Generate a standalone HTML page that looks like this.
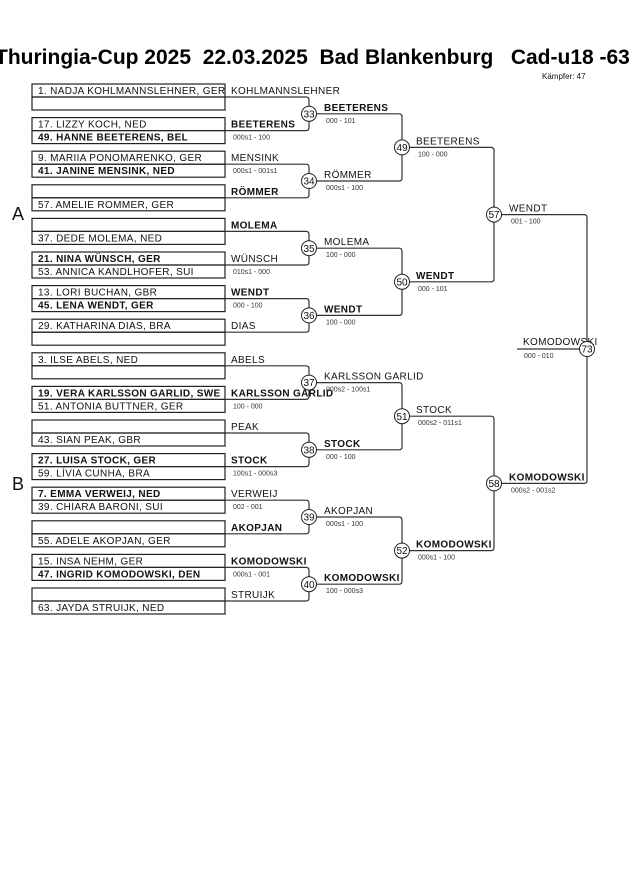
<!DOCTYPE html>
<html><head><meta charset="utf-8"><style>
html,body{margin:0;padding:0;background:#fff;overflow:hidden;}
svg{display:block;}
.t{font-family:"Liberation Sans",sans-serif;font-size:10px;letter-spacing:0.35px;fill:#111;}
.b{font-weight:bold;}
.s{font-family:"Liberation Sans",sans-serif;font-size:7px;fill:#333;}
.n{font-family:"Liberation Sans",sans-serif;font-size:10px;fill:#111;text-anchor:middle;}
rect.r{fill:none;stroke:#222;stroke-width:1.2;}
path{fill:none;stroke:#333;stroke-width:1.2;}
circle{fill:#fff;stroke:#222;stroke-width:1;}
</style></head><body>
<svg width="630" height="891" viewBox="0 0 630 891" xmlns="http://www.w3.org/2000/svg">
<text x="-5" y="64" font-family="Liberation Sans,sans-serif" font-size="21" font-weight="bold" fill="#000" xml:space="preserve">Thuringia-Cup 2025  22.03.2025  Bad Blankenburg   Cad-u18 -63</text>
<text x="542" y="79" font-family="Liberation Sans,sans-serif" font-size="8" fill="#111">Kämpfer: 47</text>
<text x="12" y="220" font-family="Liberation Sans,sans-serif" font-size="18" fill="#111">A</text>
<text x="12" y="490" font-family="Liberation Sans,sans-serif" font-size="18" fill="#111">B</text>

<g>
<rect class="r" x="32" y="84" width="193" height="13"/><rect class="r" x="32" y="97" width="193" height="13"/>
<rect class="r" x="32" y="117.6" width="193" height="13"/><rect class="r" x="32" y="130.6" width="193" height="13"/>
<rect class="r" x="32" y="151.2" width="193" height="13"/><rect class="r" x="32" y="164.2" width="193" height="13"/>
<rect class="r" x="32" y="184.8" width="193" height="13"/><rect class="r" x="32" y="197.8" width="193" height="13"/>
<rect class="r" x="32" y="218.4" width="193" height="13"/><rect class="r" x="32" y="231.4" width="193" height="13"/>
<rect class="r" x="32" y="252" width="193" height="13"/><rect class="r" x="32" y="265" width="193" height="13"/>
<rect class="r" x="32" y="285.6" width="193" height="13"/><rect class="r" x="32" y="298.6" width="193" height="13"/>
<rect class="r" x="32" y="319.2" width="193" height="13"/><rect class="r" x="32" y="332.2" width="193" height="13"/>
<rect class="r" x="32" y="352.8" width="193" height="13"/><rect class="r" x="32" y="365.8" width="193" height="13"/>
<rect class="r" x="32" y="386.4" width="193" height="13"/><rect class="r" x="32" y="399.4" width="193" height="13"/>
<rect class="r" x="32" y="420" width="193" height="13"/><rect class="r" x="32" y="433" width="193" height="13"/>
<rect class="r" x="32" y="453.6" width="193" height="13"/><rect class="r" x="32" y="466.6" width="193" height="13"/>
<rect class="r" x="32" y="487.2" width="193" height="13"/><rect class="r" x="32" y="500.2" width="193" height="13"/>
<rect class="r" x="32" y="520.8" width="193" height="13"/><rect class="r" x="32" y="533.8" width="193" height="13"/>
<rect class="r" x="32" y="554.4" width="193" height="13"/><rect class="r" x="32" y="567.4" width="193" height="13"/>
<rect class="r" x="32" y="588" width="193" height="13"/><rect class="r" x="32" y="601" width="193" height="13"/>
</g>
<text class="t" x="38" y="94">1. NADJA KOHLMANNSLEHNER, GER</text>
<text class="t" x="38" y="127.6">17. LIZZY KOCH, NED</text>
<text class="t b" x="38" y="140.6">49. HANNE BEETERENS, BEL</text>
<text class="t" x="38" y="161.2">9. MARIIA PONOMARENKO, GER</text>
<text class="t b" x="38" y="174.2">41. JANINE MENSINK, NED</text>
<text class="t" x="38" y="207.8">57. AMELIE ROMMER, GER</text>
<text class="t" x="38" y="241.4">37. DEDE MOLEMA, NED</text>
<text class="t b" x="38" y="262">21. NINA WÜNSCH, GER</text>
<text class="t" x="38" y="275">53. ANNICA KANDLHOFER, SUI</text>
<text class="t" x="38" y="295.6">13. LORI BUCHAN, GBR</text>
<text class="t b" x="38" y="308.6">45. LENA WENDT, GER</text>
<text class="t" x="38" y="329.2">29. KATHARINA DIAS, BRA</text>
<text class="t" x="38" y="362.8">3. ILSE ABELS, NED</text>
<text class="t b" x="38" y="396.4">19. VERA KARLSSON GARLID, SWE</text>
<text class="t" x="38" y="409.4">51. ANTONIA BUTTNER, GER</text>
<text class="t" x="38" y="443">43. SIAN PEAK, GBR</text>
<text class="t b" x="38" y="463.6">27. LUISA STOCK, GER</text>
<text class="t" x="38" y="476.6">59. LÍVIA CUNHA, BRA</text>
<text class="t b" x="38" y="497.2">7. EMMA VERWEIJ, NED</text>
<text class="t" x="38" y="510.2">39. CHIARA BARONI, SUI</text>
<text class="t" x="38" y="543.8">55. ADELE AKOPJAN, GER</text>
<text class="t" x="38" y="564.4">15. INSA NEHM, GER</text>
<text class="t b" x="38" y="577.4">47. INGRID KOMODOWSKI, DEN</text>
<text class="t" x="38" y="611">63. JAYDA STRUIJK, NED</text>

<path d="M225,97 H306 Q309,97 309,100 V127.6 Q309,130.6 306,130.6 H225"/>
<path d="M225,164.2 H306 Q309,164.2 309,167.2 V194.8 Q309,197.8 306,197.8 H225"/>
<path d="M225,231.4 H306 Q309,231.4 309,234.4 V262 Q309,265 306,265 H225"/>
<path d="M225,298.6 H306 Q309,298.6 309,301.6 V329.2 Q309,332.2 306,332.2 H225"/>
<path d="M225,365.8 H306 Q309,365.8 309,368.8 V396.4 Q309,399.4 306,399.4 H225"/>
<path d="M225,433 H306 Q309,433 309,436 V463.6 Q309,466.6 306,466.6 H225"/>
<path d="M225,500.2 H306 Q309,500.2 309,503.2 V530.8 Q309,533.8 306,533.8 H225"/>
<path d="M225,567.4 H306 Q309,567.4 309,570.4 V598 Q309,601 306,601 H225"/>
<path d="M316,113.8 H399 Q402,113.8 402,116.8 V178 Q402,181 399,181 H316"/>
<path d="M316,248.2 H399 Q402,248.2 402,251.2 V312.4 Q402,315.4 399,315.4 H316"/>
<path d="M316,382.6 H399 Q402,382.6 402,385.6 V446.8 Q402,449.8 399,449.8 H316"/>
<path d="M316,517 H399 Q402,517 402,520 V581.2 Q402,584.2 399,584.2 H316"/>
<path d="M409,147.4 H491 Q494,147.4 494,150.4 V278.8 Q494,281.8 491,281.8 H409"/>
<path d="M409,416.2 H491 Q494,416.2 494,419.2 V547.6 Q494,550.6 491,550.6 H409"/>
<path d="M501,214.6 H584 Q587,214.6 587,217.6 V480.4 Q587,483.4 584,483.4 H501"/>
<path d="M517,349 H580"/>

<text class="t" x="231" y="94">KOHLMANNSLEHNER</text>
<text class="t b" x="231" y="127.6">BEETERENS</text><text class="s" x="233" y="139.6">000s1 - 100</text>
<text class="t" x="231" y="161.2">MENSINK</text><text class="s" x="233" y="173.2">000s1 - 001s1</text>
<text class="t b" x="231" y="194.8">RÖMMER</text>
<text class="t b" x="231" y="228.4">MOLEMA</text>
<text class="t" x="231" y="262">WÜNSCH</text><text class="s" x="233" y="274">010s1 - 000</text>
<text class="t b" x="231" y="295.6">WENDT</text><text class="s" x="233" y="307.6">000 - 100</text>
<text class="t" x="231" y="329.2">DIAS</text>
<text class="t" x="231" y="362.8">ABELS</text>
<text class="t b" x="231" y="396.4">KARLSSON GARLID</text><text class="s" x="233" y="408.4">100 - 000</text>
<text class="t" x="231" y="430">PEAK</text>
<text class="t b" x="231" y="463.6">STOCK</text><text class="s" x="233" y="475.6">100s1 - 000s3</text>
<text class="t" x="231" y="497.2">VERWEIJ</text><text class="s" x="233" y="509.2">002 - 001</text>
<text class="t b" x="231" y="530.8">AKOPJAN</text>
<text class="t b" x="231" y="564.4">KOMODOWSKI</text><text class="s" x="233" y="576.4">000s1 - 001</text>
<text class="t" x="231" y="598">STRUIJK</text>

<text class="t b" x="324" y="110.8">BEETERENS</text><text class="s" x="326" y="122.8">000 - 101</text>
<text class="t" x="324" y="178">RÖMMER</text><text class="s" x="326" y="190">000s1 - 100</text>
<text class="t" x="324" y="245.2">MOLEMA</text><text class="s" x="326" y="257.2">100 - 000</text>
<text class="t b" x="324" y="312.4">WENDT</text><text class="s" x="326" y="324.4">100 - 000</text>
<text class="t" x="324" y="379.6">KARLSSON GARLID</text><text class="s" x="326" y="391.6">000s2 - 100s1</text>
<text class="t b" x="324" y="446.8">STOCK</text><text class="s" x="326" y="458.8">000 - 100</text>
<text class="t" x="324" y="514">AKOPJAN</text><text class="s" x="326" y="526">000s1 - 100</text>
<text class="t b" x="324" y="581.2">KOMODOWSKI</text><text class="s" x="326" y="593.2">100 - 000s3</text>

<text class="t" x="416" y="144.4">BEETERENS</text><text class="s" x="418" y="156.4">100 - 000</text>
<text class="t b" x="416" y="278.8">WENDT</text><text class="s" x="418" y="290.8">000 - 101</text>
<text class="t" x="416" y="413.2">STOCK</text><text class="s" x="418" y="425.2">000s2 - 011s1</text>
<text class="t b" x="416" y="547.6">KOMODOWSKI</text><text class="s" x="418" y="559.6">000s1 - 100</text>

<text class="t" x="509" y="211.6">WENDT</text><text class="s" x="511" y="223.6">001 - 100</text>
<text class="t b" x="509" y="480.4">KOMODOWSKI</text><text class="s" x="511" y="492.4">000s2 - 001s2</text>
<text class="t" x="523" y="345">KOMODOWSKI</text><text class="s" x="524" y="358">000 - 010</text>

<circle cx="309" cy="113.8" r="7.5"/><text class="n" x="309" y="117.4">33</text>
<circle cx="309" cy="181" r="7.5"/><text class="n" x="309" y="184.6">34</text>
<circle cx="309" cy="248.2" r="7.5"/><text class="n" x="309" y="251.8">35</text>
<circle cx="309" cy="315.4" r="7.5"/><text class="n" x="309" y="319">36</text>
<circle cx="309" cy="382.6" r="7.5"/><text class="n" x="309" y="386.2">37</text>
<circle cx="309" cy="449.8" r="7.5"/><text class="n" x="309" y="453.4">38</text>
<circle cx="309" cy="517" r="7.5"/><text class="n" x="309" y="520.6">39</text>
<circle cx="309" cy="584.2" r="7.5"/><text class="n" x="309" y="587.8">40</text>
<circle cx="402" cy="147.4" r="7.5"/><text class="n" x="402" y="151">49</text>
<circle cx="402" cy="281.8" r="7.5"/><text class="n" x="402" y="285.4">50</text>
<circle cx="402" cy="416.2" r="7.5"/><text class="n" x="402" y="419.8">51</text>
<circle cx="402" cy="550.6" r="7.5"/><text class="n" x="402" y="554.2">52</text>
<circle cx="494" cy="214.6" r="7.5"/><text class="n" x="494" y="218.2">57</text>
<circle cx="494" cy="483.4" r="7.5"/><text class="n" x="494" y="487">58</text>
<circle cx="587" cy="349" r="7.5"/><text class="n" x="587" y="352.6">73</text>
</svg>
</body></html>
